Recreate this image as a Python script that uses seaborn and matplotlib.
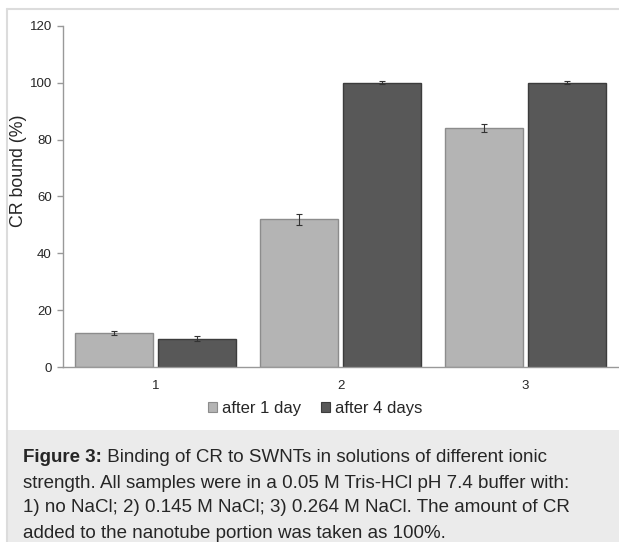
import matplotlib
matplotlib.use("Agg")
import matplotlib.pyplot as plt
import seaborn as sns
import pandas as pd
import numpy as np
from matplotlib.patches import Rectangle
from matplotlib.lines import Line2D

# ---- data ----
samples = ["1", "2", "3"]
series_names = ["after 1 day", "after 4 days"]
day1_values = [12, 52, 84]
day4_values = [10, 100, 100]
day1_err = [0.8, 2.0, 1.5]
day4_err = [0.9, 0.5, 0.5]
y_ticks = [0, 20, 40, 60, 80, 100, 120]
caption_lines = [
    ("Figure 3:", " Binding of CR to SWNTs in solutions of different ionic"),
    ("", "strength. All samples were in a 0.05 M Tris-HCl pH 7.4 buffer with:"),
    ("", "1) no NaCl; 2) 0.145 M NaCl; 3) 0.264 M NaCl. The amount of CR"),
    ("", "added to the nanotube portion was taken as 100%."),
]

df = pd.DataFrame({
    "sample": samples * 2,
    "value": day1_values + day4_values,
    "err": day1_err + day4_err,
    "series": [series_names[0]] * 3 + [series_names[1]] * 3,
})

sns.set_style("white")
plt.rcParams["font.family"] = ["Liberation Sans", "DejaVu Sans"]

W, H = 619, 542
fig = plt.figure(figsize=(W / 100, H / 100), dpi=100)

# background frame and caption box
fig.patches.append(Rectangle((7 / W, 0), 1 - 7 / W, (H - 430) / H, transform=fig.transFigure,
                             facecolor="#ebebeb", edgecolor="none", zorder=0))
fig.lines.append(Line2D([7 / W, 1], [1 - 9 / H, 1 - 9 / H], transform=fig.transFigure,
                        color="#dcdcdc", lw=1.5))
fig.lines.append(Line2D([7 / W, 7 / W], [0, 1 - 9 / H], transform=fig.transFigure,
                        color="#dcdcdc", lw=1.5))

ax = fig.add_axes([63 / W, 1 - 367.3 / H, (618 - 63) / W, (367.3 - 25.7) / H])
light, dark = "#b4b4b4", "#585858"
sns.barplot(data=df, x="sample", y="value", hue="series", order=samples,
            hue_order=series_names, palette=[light, dark], width=0.89, gap=0.056,
            errorbar=None, ax=ax, legend=False, saturation=1)

# bevel-like edges and error bars from the drawn patches
edge_cols = {light: "#8c8c8c", dark: "#3c3c3c"}
for i, p in enumerate(ax.patches[:6]):
    fc = light if i < 3 else dark
    p.set_edgecolor(edge_cols[fc])
    p.set_linewidth(1.0)
    cx = p.get_x() + p.get_width() / 2
    ax.errorbar(cx, p.get_height(), yerr=df["err"].iloc[i], fmt="none",
                ecolor="#333333", elinewidth=0.8, capsize=2.5, capthick=0.8, zorder=5)

ax.set_xlim(-0.5, 2.5)
ax.set_ylim(0, 120)
ax.set_yticks(y_ticks)
ax.set_yticklabels([str(t) for t in y_ticks], fontsize=9.5)
ax.set_xticks(range(3))
ax.set_xticklabels(samples, fontsize=9.5)
ax.set_xticks([-0.5, 0.5, 1.5, 2.5], minor=True)
ax.tick_params(axis="x", which="major", length=0, pad=9)
ax.tick_params(axis="x", which="minor", length=4, color="#999999", direction="out", width=1)
ax.tick_params(axis="y", length=4, color="#999999", direction="out", width=1, pad=4, left=True)
ax.set_xlabel("")
ax.set_ylabel("CR bound (%)", fontsize=12.8)
ax.yaxis.set_label_coords((27 - 63) / (618 - 63), (367.3 - 171) / 341.6)
for s in ["top", "right"]:
    ax.spines[s].set_visible(False)
for s in ["left", "bottom"]:
    ax.spines[s].set_color("#999999")
    ax.spines[s].set_linewidth(1)
ax.set_facecolor("none")

handles = [Rectangle((0, 0), 1, 1, facecolor=light, edgecolor=edge_cols[light], lw=0.8),
           Rectangle((0, 0), 1, 1, facecolor=dark, edgecolor=edge_cols[dark], lw=0.8)]
fig.legend(handles, series_names, loc="center", bbox_to_anchor=(315 / W, 1 - 408 / H),
           ncol=2, frameon=False, fontsize=12, handlelength=0.55, handleheight=0.55,
           handletextpad=0.3, columnspacing=1.2)

# caption
fig.canvas.draw()
renderer = fig.canvas.get_renderer()
x0 = 23 / W
ys = [458, 483, 508, 533]
for (bold, rest), yp in zip(caption_lines, ys):
    y = 1 - yp / H
    xx = x0
    if bold:
        t = fig.text(xx, y, bold, fontsize=13.5, fontweight="bold", va="center", ha="left")
        bb = t.get_window_extent(renderer)
        xx = bb.x1 / W
    fig.text(xx, y, rest, fontsize=13.5, va="center", ha="left")

fig.savefig("out.png", dpi=100)
